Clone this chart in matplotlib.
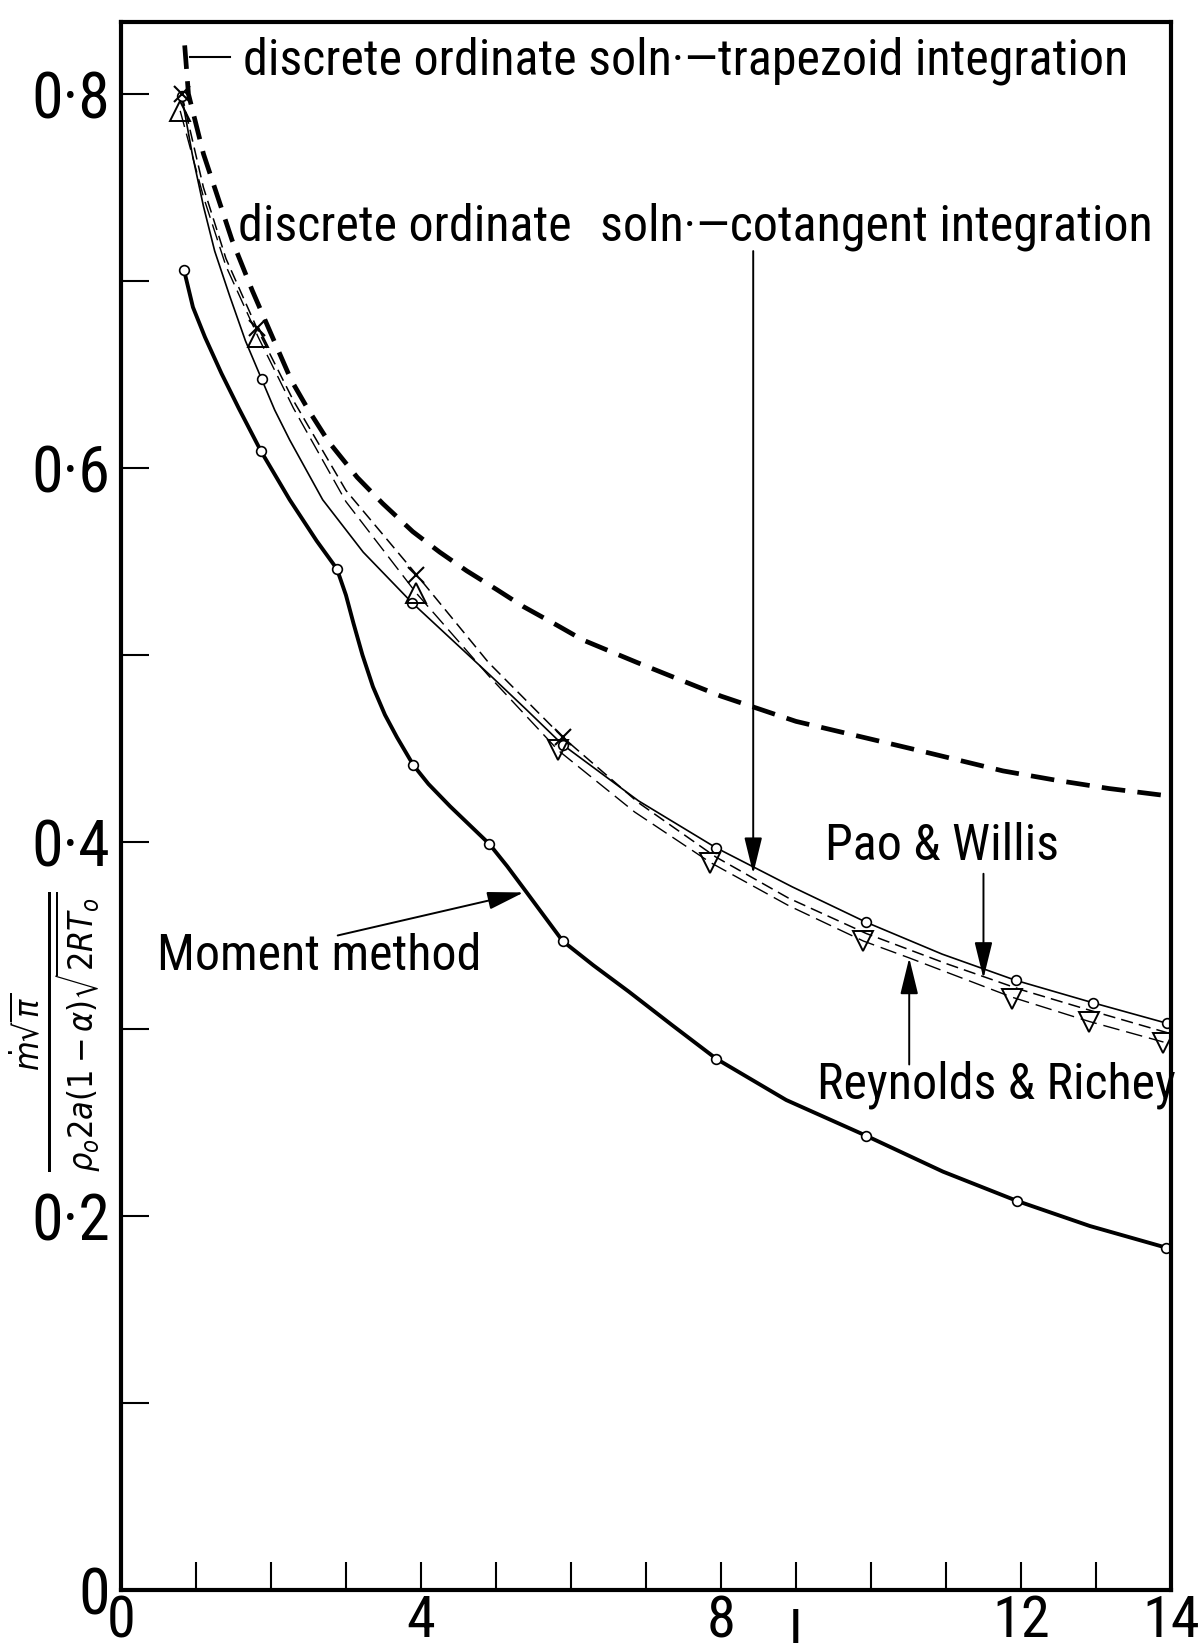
import numpy as np
import matplotlib
matplotlib.use('Agg')
import matplotlib.pyplot as plt
from matplotlib import font_manager

# pick a narrow sans if one is there, the original lettering is condensed
avail = {f.name for f in font_manager.fontManager.ttflist}
cands = ['Liberation Sans Narrow', 'Roboto Condensed', 'Open Sans Condensed', 'DejaVu Sans Condensed',
         'Roboto', 'Liberation Sans']
family = next((c for c in cands if c in avail), 'DejaVu Sans')
plt.rcParams['font.family'] = [family, 'DejaVu Sans']
plt.rcParams['font.stretch'] = 'condensed'

# thick dashed: discrete ordinate soln - trapezoid integration
trap_x = [0.85, 0.90, 1.10, 1.48, 1.75, 2.02, 2.27, 2.50, 2.77, 3.15, 3.49, 3.89, 4.25, 4.61, 5.01, 5.36,
          5.81, 6.16, 6.52, 6.88, 7.50, 8.00, 9.00, 10.0, 10.63, 11.76, 12.47, 13.17, 13.93]
trap_y = [0.826, 0.800, 0.768, 0.722, 0.695, 0.670, 0.647, 0.631, 0.614, 0.595, 0.581, 0.566, 0.555, 0.545, 0.535, 0.526,
          0.516, 0.508, 0.502, 0.496, 0.486, 0.478, 0.4645, 0.455, 0.449, 0.438, 0.433, 0.4286, 0.4248]

# thin solid: discrete ordinate soln - cotangent integration
cot_x = [0.81, 0.95, 1.10, 1.25, 1.45, 1.66, 1.876, 2.05, 2.25, 2.69, 3.23, 3.88, 4.39, 4.90, 5.40, 5.89,
         6.90, 7.93, 8.95, 9.94, 10.95, 11.93, 12.96, 13.95]
cot_y = [0.799, 0.768, 0.740, 0.716, 0.692, 0.668, 0.6475, 0.631, 0.615, 0.583, 0.555, 0.528, 0.509, 0.490, 0.471, 0.452,
         0.422, 0.397, 0.376, 0.357, 0.340, 0.326, 0.314, 0.303]
cot_mx = [0.81, 1.876, 3.88, 5.89, 7.93, 9.94, 11.93, 12.96, 13.95]
cot_my = [0.799, 0.6475, 0.528, 0.452, 0.397, 0.357, 0.326, 0.314, 0.303]

# dashed with crosses: Pao & Willis
pw_x = [0.81, 1.10, 1.40, 1.81, 2.30, 3.00, 3.94, 4.90, 5.89, 6.90, 7.93, 8.90, 9.94, 11.0, 11.5, 12.0, 13.0, 13.95]
pw_y = [0.800, 0.750, 0.712, 0.675, 0.636, 0.588, 0.543, 0.496, 0.456, 0.421, 0.392, 0.370, 0.351, 0.335, 0.328, 0.321, 0.309, 0.298]
pw_mx = [0.81, 1.81, 3.94, 5.89]
pw_my = [0.800, 0.675, 0.543, 0.456]

# dashed with triangles: Reynolds & Richey
rr_x = [0.79, 1.10, 1.40, 1.83, 2.30, 3.00, 3.94, 4.90, 5.83, 6.85, 7.86, 8.90, 9.90, 10.51, 11.88, 12.91, 13.90]
rr_y = [0.791, 0.745, 0.708, 0.670, 0.632, 0.582, 0.533, 0.489, 0.449, 0.416, 0.389, 0.366, 0.347, 0.338, 0.317, 0.304, 0.293]
rr_ux = [0.79, 1.83, 3.94]
rr_uy = [0.791, 0.670, 0.533]
rr_dx = [5.83, 7.86, 9.90, 11.88, 12.91, 13.90]
rr_dy = [0.449, 0.389, 0.347, 0.316, 0.3036, 0.2927]

# thick solid: moment method
mom_x = [0.84, 0.96, 1.12, 1.34, 1.57, 1.867, 2.25, 2.61, 2.88, 3.00, 3.10, 3.22, 3.36, 3.52, 3.68, 3.90, 4.10,
         4.39, 4.65, 4.91, 5.15, 5.41, 5.65, 5.89, 6.30, 6.77, 7.35, 7.94, 8.87, 9.93, 10.96, 11.95, 12.92, 13.94]
mom_y = [0.706, 0.686, 0.670, 0.6506, 0.632, 0.609, 0.583, 0.561, 0.546, 0.532, 0.517, 0.500, 0.483, 0.468, 0.456, 0.441, 0.431,
         0.419, 0.409, 0.399, 0.387, 0.373, 0.360, 0.347, 0.334, 0.320, 0.302, 0.284, 0.262, 0.243, 0.2237, 0.208, 0.1946, 0.183]
mom_mx = [0.84, 1.867, 2.88, 3.90, 4.91, 5.89, 7.94, 9.93, 11.95, 13.94]
mom_my = [0.706, 0.609, 0.546, 0.441, 0.399, 0.347, 0.284, 0.243, 0.208, 0.183]

xticks = list(range(15))
xlabels = ['0', '', '', '', '4', '', '', '', '8', '', '', '', '12', '', '14']
yticks = [0, 0.1, 0.2, 0.3, 0.4, 0.5, 0.6, 0.7, 0.8]
ylabels = ['0', '', '0·2', '', '0·4', '', '0·6', '', '0·8']

fig = plt.figure(figsize=(12.01, 16.43), dpi=100)
ax = fig.add_axes([0.1007, 0.0323, 0.8743, 0.9543])

ax.plot(trap_x, trap_y, color='k', lw=3.4, dashes=(5, 2.6), solid_capstyle='butt')
ax.plot(cot_x, cot_y, color='k', lw=1.2)
ax.plot(pw_x, pw_y, color='k', lw=1.1, dashes=(8, 4))
ax.plot(rr_x, rr_y, color='k', lw=1.0, dashes=(12, 5))
ax.plot(mom_x, mom_y, color='k', lw=2.8)

ax.plot(cot_mx, cot_my, ls='none', marker='o', ms=7, mfc='white', mec='k', mew=1.2)
ax.plot(pw_mx, pw_my, ls='none', marker='x', ms=12, mec='k', mew=1.5)
ax.plot(rr_ux, rr_uy, ls='none', marker='^', ms=15, mfc='none', mec='k', mew=1.4)
ax.plot(rr_dx, rr_dy, ls='none', marker='v', ms=15, mfc='none', mec='k', mew=1.4)
ax.plot(mom_mx, mom_my, ls='none', marker='o', ms=7, mfc='white', mec='k', mew=1.2)

ax.set_xlim(0, 14)
ax.set_ylim(0, 0.8385)
ax.set_xticks(xticks)
ax.set_xticklabels(xlabels)
ax.set_yticks(yticks)
ax.set_yticklabels(ylabels)
ax.tick_params(direction='in', length=20, width=1.5, labelsize=46)
ax.tick_params(axis='y', pad=8)
ax.tick_params(axis='x', labelsize=42, pad=3)
for s in ax.spines.values():
    s.set_linewidth(3)

fs = 35
ax.plot([0.92, 1.45], [0.820, 0.820], color='k', lw=1.5)
labels = []
labels.append(ax.text(1.63, 0.818, 'discrete ordinate soln·—trapezoid integration', fontsize=fs, va='center'))
labels.append(ax.text(1.56, 0.729, 'discrete ordinate', fontsize=fs, va='center'))
labels.append(ax.text(6.39, 0.729, 'soln·—cotangent integration', fontsize=fs, va='center'))
labels.append(ax.text(9.39, 0.398, 'Pao & Willis', fontsize=fs, va='center'))
labels.append(ax.text(9.28, 0.270, 'Reynolds & Richey', fontsize=fs, va='center'))
labels.append(ax.text(0.48, 0.339, 'Moment method', fontsize=fs, va='center'))
ax.text(9.0, -0.010, 'l', fontsize=42, ha='center', va='top')

# size the lettering so the top label spans the same width as in the drawing
fig.canvas.draw()
w = labels[0].get_window_extent().width
for t in labels:
    t.set_fontsize(fs * 885.0 / w)

arrow = dict(arrowstyle='-|>,head_length=0.9,head_width=0.22', color='k', lw=1.4,
             shrinkA=0, shrinkB=0, mutation_scale=25)
ax.annotate('', xy=(8.43, 0.383), xytext=(8.43, 0.716), arrowprops=arrow)
ax.annotate('', xy=(11.50, 0.327), xytext=(11.50, 0.383), arrowprops=arrow)
ax.annotate('', xy=(10.51, 0.338), xytext=(10.51, 0.281), arrowprops=arrow)
ax.annotate('', xy=(5.37, 0.373), xytext=(2.89, 0.350), arrowprops=arrow)

fig.text(0.046, 0.372, r'$\frac{\dot{m}\sqrt{\pi}}{\rho_o 2a(1-\alpha)\sqrt{2RT_o}}$',
         rotation=90, fontsize=35, ha='center', va='center')

fig.savefig('out.png', dpi=100)
